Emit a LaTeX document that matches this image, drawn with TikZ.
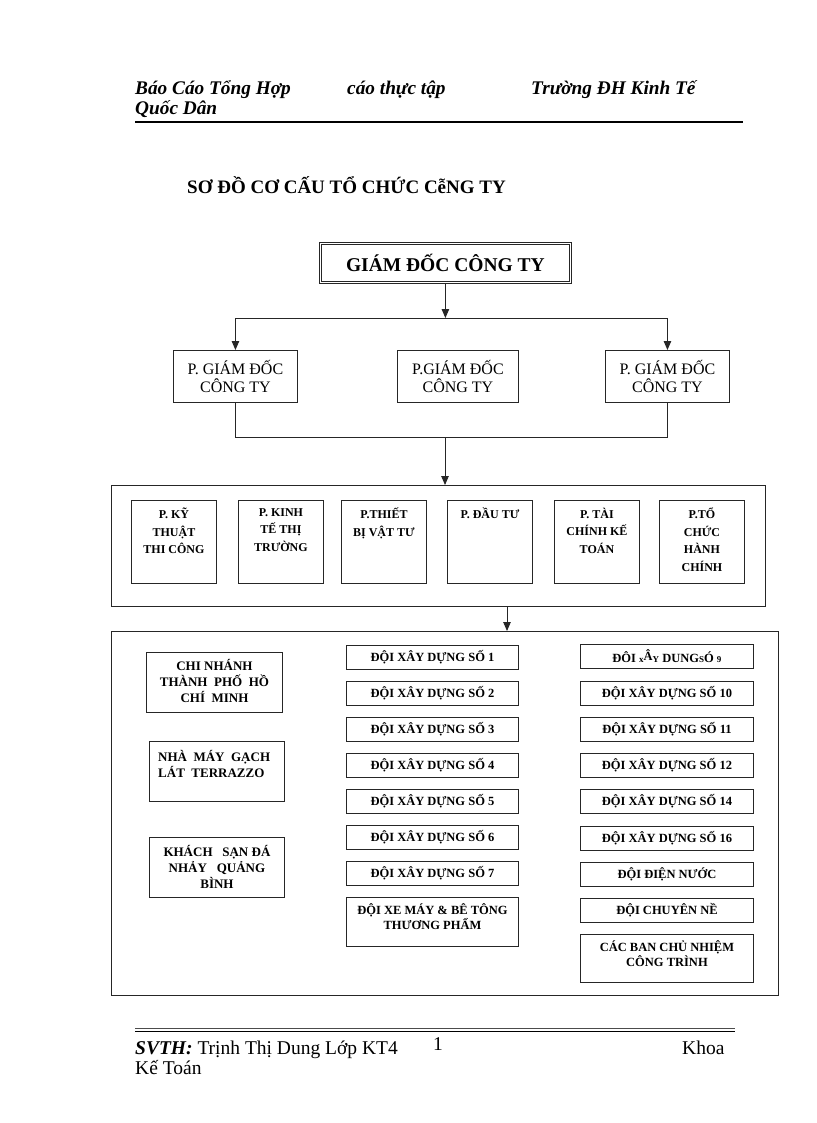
\documentclass[tikz,border=0pt]{standalone}
\usepackage{fontspec}
\setmainfont{Liberation Serif}
\usetikzlibrary{arrows.meta}
\begin{document}
\begin{tikzpicture}[x=1pt,y=-1pt,
  box/.style={draw=black!85, line width=0.9pt, inner sep=0pt, anchor=north west},
  arr/.style={-{Triangle[length=9pt,width=7.5pt]}, line width=0.9pt, draw=black!85},
  conn/.style={line width=0.9pt, draw=black!85},
  pgtext/.style={font=\fontsize{16}{18}\selectfont, align=center},
  dept/.style={box, minimum width=85pt, minimum height=83pt},
  depttext/.style={font=\bfseries\fontsize{12}{17.5}\selectfont, align=center, anchor=north, inner sep=0pt},
  team/.style={box, minimum width=172pt, minimum height=24pt, font=\bfseries\fontsize{12.5}{14}\selectfont},
  teamtext/.style={font=\bfseries\fontsize{12.5}{15}\selectfont, align=center, anchor=north, inner sep=0pt},
  side/.style={box, minimum width=136pt, minimum height=60pt},
  sidetext/.style={font=\bfseries\fontsize{13}{16}\selectfont, align=center, anchor=north, inner sep=0pt},
  hdr/.style={font=\bfseries\itshape\fontsize{19.3}{21}\selectfont, anchor=base west, inner sep=0pt},
  ftr/.style={font=\fontsize{19.5}{21}\selectfont, anchor=base west, inner sep=0pt}
]
\useasboundingbox[fill=white] (0,0) rectangle (816,1123);

% header
\node[hdr] (h1) at (135,95) {Báo Cáo Tổng Hợp};
\node[hdr] (h2) at (347,95) {cáo thực tập};
\node[hdr] (h3) at (531,95) {Trường ĐH Kinh Tế};
\node[hdr] (h4) at (135,115) {Quốc Dân};
\coordinate (hl1) at (135,122);
\coordinate (hl2) at (743,122);
\draw[line width=2pt] (hl1) -- (hl2);

% title
\node[font=\bfseries\fontsize{19}{21}\selectfont, anchor=base west, inner sep=0pt] (title) at (187,194) {SƠ ĐỒ CƠ CẤU TỔ CHỨC CễNG TY};

% director
\node[box, double, double distance=1.6pt, line width=0.8pt, minimum width=250pt, minimum height=39pt,
      font=\bfseries\fontsize{19.5}{21}\selectfont] (gd) at (320,243) {GIÁM ĐỐC CÔNG TY};

% deputies
\node[box, minimum width=124pt, minimum height=52pt, pgtext] (pg1) at (173,350) {P. GIÁM ĐỐC\\CÔNG TY};
\node[box, minimum width=121pt, minimum height=52pt, pgtext] (pg2) at (397,350) {P.GIÁM ĐỐC\\CÔNG TY};
\node[box, minimum width=124pt, minimum height=52pt, pgtext] (pg3) at (605,350) {P. GIÁM ĐỐC\\CÔNG TY};

\coordinate (j1) at (445,318);
\coordinate (j2) at (445,437);
\draw[arr] (gd.south) -- (gd.south |- j1);
\draw[conn] (pg1.north |- j1) -- (pg3.north |- j1);
\draw[arr] (pg1.north |- j1) -- (pg1.north);
\draw[arr] (pg3.north |- j1) -- (pg3.north);
\draw[conn] (pg1.south) -- (pg1.south |- j2) -- (pg3.south |- j2) -- (pg3.south);

% departments container
\node[box, minimum width=654pt, minimum height=121pt] (c1) at (111,485) {};
\draw[arr] (j2) -- (j2 |- c1.north);

\node[dept] (d1) at (131,500) {};
\node[dept] (d2) at (238,500) {};
\node[dept] (d3) at (341,500) {};
\node[dept] (d4) at (447,500) {};
\node[dept] (d5) at (554,500) {};
\node[dept] (d6) at (659,500) {};
\node[depttext] (d1t) at ([yshift=-8pt]d1.north) {P. KỸ\\THUẬT\\THI CÔNG};
\node[depttext] (d2t) at ([yshift=-8pt]d2.north) {P. KINH\\TẾ THỊ\\TRƯỜNG};
\node[depttext] (d3t) at ([yshift=-8pt]d3.north) {P.THIẾT\\BỊ VẬT TƯ};
\node[depttext] (d4t) at ([yshift=-8pt]d4.north) {P. ĐẦU TƯ};
\node[depttext] (d5t) at ([yshift=-8pt]d5.north) {P. TÀI\\CHÍNH KẾ\\TOÁN};
\node[depttext] (d6t) at ([yshift=-8pt]d6.north) {P.TỔ\\CHỨC\\HÀNH\\CHÍNH};

% units container
\node[box, minimum width=667pt, minimum height=364pt] (c2) at (111,631) {};
\coordinate (j3) at (507,606);
\draw[arr] (j3 |- c1.south) -- (j3 |- c2.north);

% left column
\node[side] (s1) at (146,652) {};
\node[side, minimum width=135pt] (s2) at (149,741) {};
\node[side, minimum width=135pt] (s3) at (149,837) {};
\node[sidetext] (s1t) at ([yshift=-7pt]s1.north) {CHI NHÁNH\\THÀNH\ \ PHỐ\ \ HỒ\\CHÍ\ \ MINH};
\node[sidetext, align=left, anchor=north west] (s2t) at (158,750) {NHÀ\ \ MÁY\ \ GẠCH\\LÁT\ \ TERRAZZO};
\node[sidetext] (s3t) at ([yshift=-8pt]s3.north) {KHÁCH\ \ \ SẠN ĐÁ\\NHẢY\ \ \ QUẢNG\\BÌNH};

% middle column
\node[team] (m1) at (346,645) {ĐỘI XÂY DỰNG SỐ 1};
\node[team] (m2) at (346,681) {ĐỘI XÂY DỰNG SỐ 2};
\node[team] (m3) at (346,717) {ĐỘI XÂY DỰNG SỐ 3};
\node[team] (m4) at (346,753) {ĐỘI XÂY DỰNG SỐ 4};
\node[team] (m5) at (346,789) {ĐỘI XÂY DỰNG SỐ 5};
\node[team] (m6) at (346,825) {ĐỘI XÂY DỰNG SỐ 6};
\node[team] (m7) at (346,861) {ĐỘI XÂY DỰNG SỐ 7};
\node[team, minimum height=49pt] (m8) at (346,897) {};
\node[teamtext] (m8t) at ([yshift=-6pt]m8.north) {ĐỘI XE MÁY \& BÊ TÔNG\\THƯƠNG PHẨM};

% right column
\node[team, minimum width=173pt] (r1) at (580,644) {ĐÔI {\fontsize{9}{9}\selectfont x}\raisebox{2pt}{Â}{\fontsize{9}{9}\selectfont Y} DUNG{\fontsize{9}{9}\selectfont S}Ó {\fontsize{9}{9}\selectfont 9}};
\node[team, minimum width=173pt] (r2) at (580,681) {ĐỘI XÂY DỰNG SỐ 10};
\node[team, minimum width=173pt] (r3) at (580,717) {ĐỘI XÂY DỰNG SỐ 11};
\node[team, minimum width=173pt] (r4) at (580,753) {ĐỘI XÂY DỰNG SỐ 12};
\node[team, minimum width=173pt] (r5) at (580,789) {ĐỘI XÂY DỰNG SỐ 14};
\node[team, minimum width=173pt] (r6) at (580,826) {ĐỘI XÂY DỰNG SỐ 16};
\node[team, minimum width=173pt] (r7) at (580,862) {ĐỘI ĐIỆN NƯỚC};
\node[team, minimum width=173pt] (r8) at (580,898) {ĐỘI CHUYÊN NỀ};
\node[team, minimum width=173pt, minimum height=48pt] (r9) at (580,934) {};
\node[teamtext] (r9t) at ([yshift=-6pt]r9.north) {CÁC BAN CHỦ NHIỆM\\CÔNG TRÌNH};

% footer
\coordinate (fl1) at (135,1028);
\coordinate (fl2) at (735,1028);
\coordinate (fl3) at (135,1031.5);
\coordinate (fl4) at (735,1031.5);
\draw[line width=0.8pt, black!70] (fl1) -- (fl2);
\draw[line width=1.8pt] (fl3) -- (fl4);
\node[ftr] (f1) at (135,1054) {\textbf{\textit{SVTH:}} Trịnh Thị Dung Lớp KT4};
\node[ftr] (f2) at (433,1050) {1};
\node[ftr] (f3) at (682,1054) {Khoa};
\node[ftr] (f4) at (135,1074) {Kế Toán};
\end{tikzpicture}
\end{document}
